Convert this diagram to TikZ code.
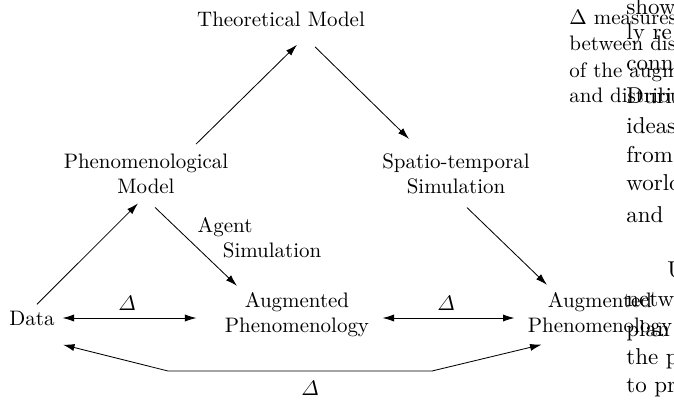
\documentclass[tikz,border=0pt]{standalone}
\usepackage{amsmath}
\usetikzlibrary{arrows.meta,calc}
\begin{document}
\begin{tikzpicture}[x=0.4771pt,y=-0.4771pt,
  lbl/.style={inner sep=0pt,font=\fontsize{10}{12}\selectfont,align=center},
  arr/.style={-{Latex[length=5.5pt,width=3.4pt]}},
  darr/.style={{Latex[length=5.5pt,width=3.4pt]}-{Latex[length=5.5pt,width=3.4pt]}},
  dlt/.style={inner sep=0pt,font=\fontsize{10}{12}\selectfont},
  captxt/.style={anchor=base west,inner sep=0pt,font=\fontsize{10}{12}\selectfont},
  bodytxt/.style={anchor=base west,inner sep=0pt,font=\fontsize{10.95}{13.6}\selectfont}]
\useasboundingbox (0,0) rectangle (674,401);

% diagram nodes
\node[lbl] (theo) at (281,19) {Theoretical Model};
\node[lbl] (phen) at (146,174) {Phenomenological\\Model};
\node[lbl] (spat) at (456,174) {Spatio-temporal\\Simulation};
\node[lbl] (data) at (32,318) {Data};
\node[lbl] (aug) at (297,315) {Augmented\\Phenomenology};
\node[lbl] (aug2) at (600,315) {Augmented\\Phenomenology};
\node[lbl,align=left] (agent) at (259.5,238) {Agent\\\hspace*{12pt}Simulation};

% connectors
\draw[arr] ($(data.north)+(5,-6)$) -- ($(phen.south)+(-8,9)$);
\draw[arr] ($(phen.north)+(50,-9.5)$) -- ($(theo.south)+(16,18)$);
\draw[arr] ($(theo.south)+(34,20)$) -- ($(spat.north)+(-47,-14.5)$);
\draw[arr] ($(phen.south)+(9,13)$) -- ($(aug.north)+(-60,-6.5)$);
\draw[arr] ($(spat.south)+(11,13)$) -- ($(aug2.north)+(-53,-7.5)$);
\draw[darr] ($(data.east)+(7.5,0)$) -- ($(aug.west)+(-28,3)$);
\draw[darr] ($(aug.east)+(13,3)$) -- ($(aug2.west)+(-13,3)$);
\coordinate (c1) at (168,371);
\coordinate (c2) at (432,371);
\draw[darr] ($(data.south east)+(8,19)$) -- (c1) -- (c2) -- ($(aug2.south west)+(14,7)$);

% delta labels
\node[dlt] (d1) at (127,303) {$\varDelta$};
\node[dlt] (d2) at (446,303) {$\varDelta$};
\node[dlt] (d3) at (310,388) {$\varDelta$};

% text of the surrounding page, cut at the right edge
\begin{scope}
\clip (0,0) rectangle (674,401);
\node[captxt] (cap1) at (569,25) {$\Delta$ measures};
\node[captxt] (cap2) at (569,51) {between dist};
\node[captxt] (cap3) at (569,77) {of the augm};
\node[captxt] (cap4) at (569,102) {and distribu};
\node[bodytxt] (b1) at (626,15) {shown};
\node[bodytxt] (b2) at (626,40) {ly re};
\node[bodytxt] (b3) at (626,71) {conne};
\node[bodytxt] (b4) at (626,104) {Durin};
\node[bodytxt] (b5) at (626,133) {ideas};
\node[bodytxt] (b6) at (626,162) {from};
\node[bodytxt] (b7) at (626,190) {world};
\node[bodytxt] (b8) at (626,222) {and};
\node[bodytxt] (b9) at (667,277) {U};
\node[bodytxt] (b10) at (626,306) {netw};
\node[bodytxt] (b11) at (626,336) {plan};
\node[bodytxt] (b12) at (626,364) {the p};
\node[bodytxt] (b13) at (626,392) {to pr};
\end{scope}
\end{tikzpicture}
\end{document}
